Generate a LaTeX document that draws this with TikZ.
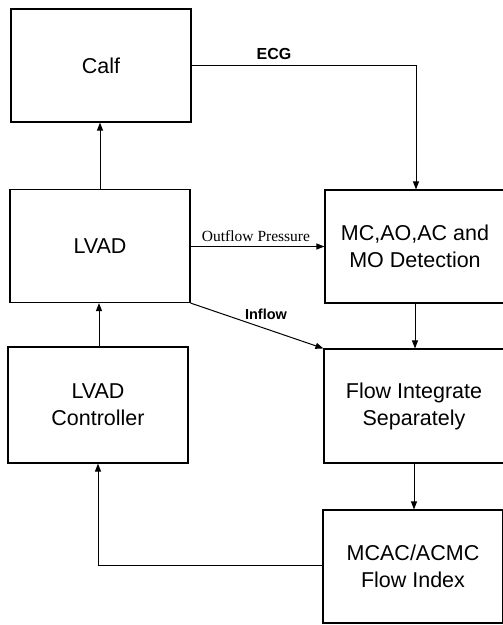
\documentclass[tikz,border=0pt]{standalone}
\usepackage{fontspec}
\setmainfont{Liberation Sans}
\newfontfamily\seriffont{Liberation Serif}
\usetikzlibrary{arrows.meta}
\begin{document}
\begin{tikzpicture}[x=1pt,y=-1pt,
  blk/.style={draw,line width=1.1pt,minimum width=180pt,inner sep=0pt,align=center,
    font=\fontsize{21.5}{27}\selectfont},
  conn/.style={line width=1pt,-{Triangle[length=8pt,width=6pt]}},
  lbl/.style={inner sep=0pt,font=\fontsize{14.5}{16}\selectfont\bfseries},
  slbl/.style={inner sep=0pt,font=\seriffont\fontsize{15.5}{16}\selectfont}]
\useasboundingbox (0,0) rectangle (503,625);
\node[blk,minimum height=113pt] (calf) at (101,65.5) {Calf};
\node[blk,minimum height=113pt] (lvad) at (100,246) {LVAD};
\node[blk,minimum height=116pt] (ctrl) at (98,405) {LVAD\\Controller};
\node[blk,minimum height=113pt] (det) at (415,246.5) {MC,AO,AC and\\MO Detection};
\node[blk,minimum height=114pt] (flow) at (414,406) {Flow Integrate\\Separately};
\node[blk,minimum height=113pt] (idx) at (413,566.5) {MCAC/ACMC\\Flow Index};
\coordinate (ecgc) at (416,65.5);
\coordinate (idxc) at (98,565);
\draw[conn] (calf.east) -- (ecgc) -- (det.north -| ecgc);
\node[lbl,font=\fontsize{16}{16}\selectfont\bfseries] (ecg) at (274,54) {ECG};
\draw[conn] (lvad.north -| 100,0) -- (calf.south -| 100,0);
\draw[conn] (lvad.east |- det.west) -- (det.west);
\node[slbl] (outp) at (256,236) {Outflow Pressure};
\draw[conn] (lvad.south east) -- (flow.north west);
\node[lbl] (inf) at (266,314) {Inflow};
\draw[conn] (det.south -| 415,0) -- (flow.north -| 415,0);
\draw[conn] (flow.south -| 414,0) -- (idx.north -| 414,0);
\draw[conn] (idx.west |- idxc) -- (idxc) -- (ctrl.south -| idxc);
\draw[conn] (ctrl.north -| 99,0) -- (lvad.south -| 99,0);
\end{tikzpicture}
\end{document}
